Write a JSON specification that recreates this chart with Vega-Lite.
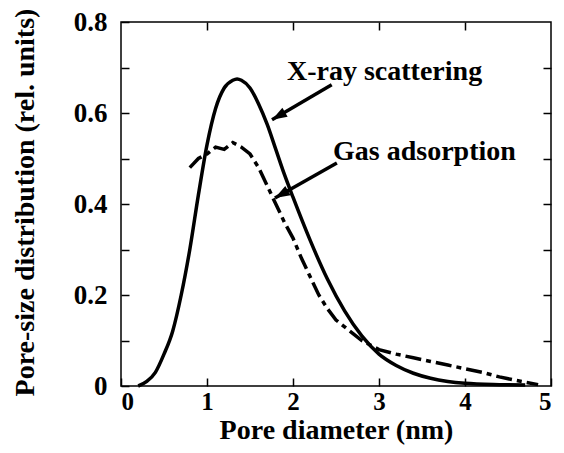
{
  "$schema": "https://vega.github.io/schema/vega-lite/v6.json",
  "width": 430,
  "height": 364,
  "autosize": {"type": "none"},
  "padding": {"left": 121, "top": 22, "right": 13, "bottom": 67},
  "background": "white",
  "config": {
    "view": {"stroke": "black", "strokeWidth": 1.5},
    "font": "Liberation Serif",
    "axis": {
      "grid": false,
      "domain": false,
      "tickColor": "black",
      "tickWidth": 1.5,
      "tickSize": -8,
      "labelFont": "Liberation Serif",
      "labelFontWeight": "bold",
      "labelFontSize": 27,
      "labelColor": "black",
      "titleFont": "Liberation Serif",
      "titleFontWeight": "bold",
      "titleFontSize": 28,
      "titleColor": "black"
    }
  },
  "datasets": {
    "xray": [
      {"d": 0.2, "p": 0.0}, {"d": 0.3, "p": 0.01}, {"d": 0.4, "p": 0.03}, {"d": 0.5, "p": 0.07},
      {"d": 0.6, "p": 0.12}, {"d": 0.7, "p": 0.2}, {"d": 0.8, "p": 0.3}, {"d": 0.9, "p": 0.42},
      {"d": 1.0, "p": 0.53}, {"d": 1.1, "p": 0.61}, {"d": 1.2, "p": 0.655}, {"d": 1.3, "p": 0.672},
      {"d": 1.35, "p": 0.675}, {"d": 1.4, "p": 0.672}, {"d": 1.5, "p": 0.655}, {"d": 1.6, "p": 0.62},
      {"d": 1.7, "p": 0.575}, {"d": 1.8, "p": 0.52}, {"d": 1.9, "p": 0.465}, {"d": 2.0, "p": 0.415},
      {"d": 2.2, "p": 0.32}, {"d": 2.4, "p": 0.235}, {"d": 2.6, "p": 0.165}, {"d": 2.8, "p": 0.11},
      {"d": 3.0, "p": 0.07}, {"d": 3.2, "p": 0.045}, {"d": 3.4, "p": 0.028}, {"d": 3.6, "p": 0.017},
      {"d": 3.8, "p": 0.01}, {"d": 4.0, "p": 0.006}, {"d": 4.4, "p": 0.003}, {"d": 4.7, "p": 0.002}
    ],
    "gas": [
      {"d": 0.8, "p": 0.48}, {"d": 0.9, "p": 0.5}, {"d": 1.0, "p": 0.51}, {"d": 1.1, "p": 0.525},
      {"d": 1.2, "p": 0.52}, {"d": 1.3, "p": 0.535}, {"d": 1.4, "p": 0.525}, {"d": 1.5, "p": 0.51},
      {"d": 1.6, "p": 0.48}, {"d": 1.7, "p": 0.44}, {"d": 1.8, "p": 0.4}, {"d": 1.9, "p": 0.36},
      {"d": 2.0, "p": 0.325}, {"d": 2.1, "p": 0.28}, {"d": 2.2, "p": 0.24}, {"d": 2.3, "p": 0.2},
      {"d": 2.4, "p": 0.17}, {"d": 2.5, "p": 0.145}, {"d": 2.6, "p": 0.13}, {"d": 2.8, "p": 0.1},
      {"d": 3.0, "p": 0.08}, {"d": 3.2, "p": 0.07}, {"d": 3.4, "p": 0.062}, {"d": 3.6, "p": 0.054},
      {"d": 3.8, "p": 0.046}, {"d": 4.0, "p": 0.038}, {"d": 4.2, "p": 0.03}, {"d": 4.4, "p": 0.02},
      {"d": 4.6, "p": 0.012}, {"d": 4.85, "p": 0.003}
    ],
    "arrows": [
      {"label": "X-ray scattering", "x": 2.45, "y": 0.662, "xt": 1.756, "yt": 0.585, "lx": 1.93, "ly": 0.6725},
      {"label": "Gas adsorption", "x": 2.51, "y": 0.49, "xt": 1.79, "yt": 0.413, "lx": 2.465, "ly": 0.497}
    ]
  },
  "resolve": {"axis": {"x": "independent", "y": "independent"}},
  "layer": [
    {
      "data": {"name": "xray"},
      "mark": {"type": "line", "color": "black", "strokeWidth": 3.5, "interpolate": "monotone"},
      "encoding": {
        "x": {
          "field": "d", "type": "quantitative",
          "scale": {"domain": [0, 5], "nice": false},
          "axis": {"orient": "bottom", "values": [0, 1, 2, 3, 4, 5], "labelPadding": 11, "labelFontSize": 25, "title": "Pore diameter (nm)", "titleBaseline": "alphabetic", "titleY": 52}
        },
        "y": {
          "field": "p", "type": "quantitative",
          "scale": {"domain": [0, 0.8], "nice": false},
          "axis": {
            "orient": "left",
            "values": [0, 0.1, 0.2, 0.3, 0.4, 0.5, 0.6, 0.7, 0.8],
            "labelExpr": "round(datum.value * 10) % 2 == 0 ? (datum.value == 0 ? '0' : format(datum.value, '.1f')) : ''",
            "labelPadding": 22,
            "title": "Pore-size distribution (rel. units)",
            "titleBaseline": "alphabetic",
            "titleX": -88,
            "titleY": 180
          }
        }
      }
    },
    {
      "data": {"name": "gas"},
      "mark": {"type": "line", "color": "black", "strokeWidth": 3.5, "strokeDash": [16, 5, 5, 5]},
      "encoding": {
        "x": {
          "field": "d", "type": "quantitative",
          "scale": {"domain": [0, 5], "nice": false},
          "axis": {"orient": "top", "values": [1, 2, 3, 4], "labels": false, "title": null}
        },
        "y": {
          "field": "p", "type": "quantitative",
          "scale": {"domain": [0, 0.8], "nice": false},
          "axis": {"orient": "right", "values": [0.1, 0.2, 0.3, 0.4, 0.5, 0.6, 0.7], "labels": false, "title": null}
        }
      }
    },
    {
      "data": {"name": "arrows"},
      "mark": {"type": "rule", "color": "black", "strokeWidth": 3.5},
      "encoding": {
        "x": {"field": "x", "type": "quantitative", "axis": null},
        "y": {"field": "y", "type": "quantitative", "axis": null},
        "x2": {"field": "xt"},
        "y2": {"field": "yt"}
      }
    },
    {
      "data": {"name": "arrows"},
      "mark": {"type": "point", "shape": "M0,0L0.7,2L-0.7,2Z", "filled": true, "color": "black", "opacity": 1, "size": 225, "angle": 240},
      "encoding": {
        "x": {"field": "xt", "type": "quantitative", "axis": null},
        "y": {"field": "yt", "type": "quantitative", "axis": null}
      }
    },
    {
      "data": {"name": "arrows"},
      "mark": {"type": "text", "align": "left", "baseline": "alphabetic", "font": "Liberation Serif", "fontWeight": "bold", "fontSize": 28, "color": "black"},
      "encoding": {
        "x": {"field": "lx", "type": "quantitative", "axis": null},
        "y": {"field": "ly", "type": "quantitative", "axis": null},
        "text": {"field": "label"}
      }
    }
  ]
}
